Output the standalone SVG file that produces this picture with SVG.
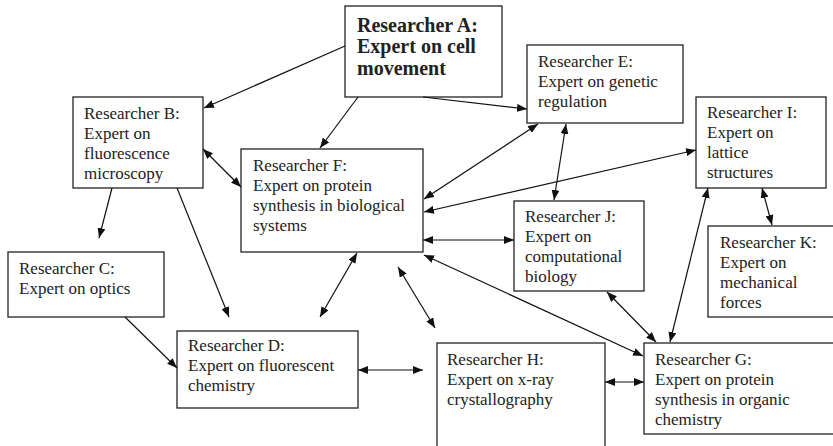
<svg xmlns="http://www.w3.org/2000/svg" width="833" height="446" viewBox="0 0 833 446">
<style>
.box{fill:#fff;stroke:#222;stroke-width:1.3}
.t{font-family:"Liberation Serif","Times New Roman",serif;font-size:17px;fill:#222}
.tb{font-family:"Liberation Serif","Times New Roman",serif;font-size:20px;font-weight:bold;fill:#222}
.c line{stroke:#111;stroke-width:1.2;fill:none}
.one{marker-end:url(#ah)}
.two{marker-start:url(#ah);marker-end:url(#ah)}
</style>
<defs>
<marker id="ah" viewBox="0 0 10 8" refX="10" refY="4" markerWidth="10" markerHeight="8" markerUnits="userSpaceOnUse" orient="auto-start-reverse">
<path d="M0,0 L10,4 L0,8 Z" fill="#111"/>
</marker>
</defs>
<rect width="833" height="446" fill="#fff"/>
<g id="nodeA"><rect class="box" x="345" y="6" width="157" height="91"/>
<text class="tb" x="357" y="32">Researcher A:</text><text class="tb" x="357" y="53">Expert on cell</text><text class="tb" x="357" y="75">movement</text></g>
<g id="nodeB"><rect class="box" x="73" y="97" width="130" height="91"/>
<text class="t" x="84" y="119">Researcher B:</text><text class="t" x="84" y="139">Expert on</text><text class="t" x="84" y="159">fluorescence</text><text class="t" x="84" y="179">microscopy</text></g>
<g id="nodeF"><rect class="box" x="241" y="149" width="182" height="103"/>
<text class="t" x="253" y="171">Researcher F:</text><text class="t" x="253" y="191">Expert on protein</text><text class="t" x="253" y="211">synthesis in biological</text><text class="t" x="253" y="231">systems</text></g>
<g id="nodeE"><rect class="box" x="527" y="45" width="156" height="78"/>
<text class="t" x="538" y="67">Researcher E:</text><text class="t" x="538" y="87">Expert on genetic</text><text class="t" x="538" y="107">regulation</text></g>
<g id="nodeI"><rect class="box" x="696" y="97" width="130" height="91"/>
<text class="t" x="707" y="118">Researcher I:</text><text class="t" x="707" y="138">Expert on</text><text class="t" x="707" y="158">lattice</text><text class="t" x="707" y="178">structures</text></g>
<g id="nodeJ"><rect class="box" x="514" y="201" width="130" height="90"/>
<text class="t" x="525" y="222">Researcher J:</text><text class="t" x="525" y="242">Expert on</text><text class="t" x="525" y="262">computational</text><text class="t" x="525" y="282">biology</text></g>
<g id="nodeK"><rect class="box" x="708" y="226" width="140" height="91"/>
<text class="t" x="720" y="248">Researcher K:</text><text class="t" x="720" y="268">Expert on</text><text class="t" x="720" y="288">mechanical</text><text class="t" x="720" y="308">forces</text></g>
<g id="nodeG"><rect class="box" x="644" y="343" width="200" height="91"/>
<text class="t" x="655" y="365">Researcher G:</text><text class="t" x="655" y="385">Expert on protein</text><text class="t" x="655" y="405">synthesis in organic</text><text class="t" x="655" y="425">chemistry</text></g>
<g id="nodeH"><rect class="box" x="437" y="343" width="168" height="120"/>
<text class="t" x="447" y="365">Researcher H:</text><text class="t" x="447" y="385">Expert on x-ray</text><text class="t" x="447" y="405">crystallography</text></g>
<g id="nodeC"><rect class="box" x="8" y="252" width="156" height="65"/>
<text class="t" x="19" y="274">Researcher C:</text><text class="t" x="19" y="294">Expert on optics</text></g>
<g id="nodeD"><rect class="box" x="177" y="331" width="181" height="77"/>
<text class="t" x="188" y="351">Researcher D:</text><text class="t" x="188" y="371">Expert on fluorescent</text><text class="t" x="188" y="391">chemistry</text></g>
<g id="connectors" class="c">
<line class="one" x1="345" y1="46" x2="204" y2="108"/>
<line class="one" x1="358" y1="97" x2="320" y2="148"/>
<line class="one" x1="423" y1="97" x2="527" y2="109"/>
<line class="two" x1="203" y1="149" x2="241" y2="187"/>
<line class="one" x1="112" y1="188" x2="99" y2="238"/>
<line class="one" x1="177" y1="188" x2="229" y2="317"/>
<line class="one" x1="125" y1="317" x2="177" y2="368"/>
<line class="two" x1="357" y1="253" x2="320" y2="317"/>
<line class="two" x1="398" y1="267" x2="435" y2="328"/>
<line class="two" x1="358" y1="370" x2="423" y2="370"/>
<line class="two" x1="605" y1="382" x2="644" y2="382"/>
<line class="two" x1="424" y1="255" x2="643" y2="356"/>
<line class="two" x1="423" y1="240" x2="514" y2="240"/>
<line class="two" x1="424" y1="199" x2="538" y2="124"/>
<line class="two" x1="424" y1="212" x2="696" y2="150"/>
<line class="two" x1="566" y1="124" x2="554" y2="200"/>
<line class="two" x1="762" y1="188" x2="772" y2="225"/>
<line class="two" x1="607" y1="292" x2="656" y2="342"/>
<line class="two" x1="708" y1="188" x2="670" y2="342"/>
</g>
</svg>
